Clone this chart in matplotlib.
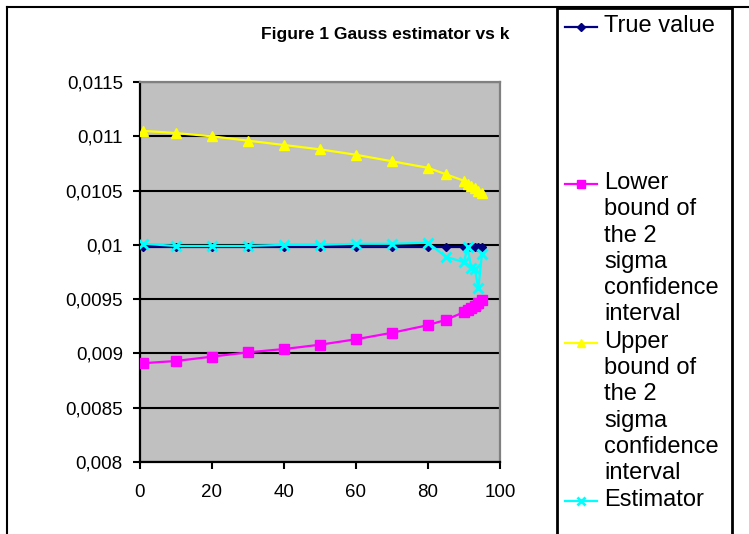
import numpy as np
import matplotlib
matplotlib.use('Agg')
import matplotlib.pyplot as plt
from matplotlib.lines import Line2D
from matplotlib.patches import Rectangle

plt.rcParams['font.family'] = ['Liberation Sans', 'DejaVu Sans']

# data
k = [1, 10, 20, 30, 40, 50, 60, 70, 80, 85, 90, 91, 92, 93, 94, 95]
true_value = [0.00998] * len(k)
lower_bound = [0.00891, 0.00893, 0.00897, 0.00901, 0.00904, 0.00908, 0.00913,
               0.00919, 0.00926, 0.00931, 0.00938, 0.00940, 0.00942, 0.00944,
               0.00946, 0.00949]
upper_bound = [0.01105, 0.01103, 0.01100, 0.01096, 0.01092, 0.01088, 0.01083,
               0.01077, 0.01071, 0.01065, 0.01059, 0.01056, 0.01054, 0.01052,
               0.01050, 0.01048]
estimator = [0.01001, 0.00999, 0.00999, 0.00999, 0.01000, 0.01000, 0.01001,
             0.01001, 0.01002, 0.00989, 0.00984, 0.00998, 0.00979, 0.00978,
             0.00960, 0.00992]

y_ticks = [0.008, 0.0085, 0.009, 0.0095, 0.01, 0.0105, 0.011, 0.0115]
y_labels = ['0,008', '0,0085', '0,009', '0,0095', '0,01', '0,0105', '0,011', '0,0115']
x_ticks = [0, 20, 40, 60, 80, 100]

series_names = ['True value',
                'Lower\nbound of\nthe 2\nsigma\nconfidence\ninterval',
                'Upper\nbound of\nthe 2\nsigma\nconfidence\ninterval',
                'Estimator']

W, H = 749, 534
fig = plt.figure(figsize=(W / 100, H / 100), dpi=100)
fig.patch.set_facecolor('white')

ax = fig.add_axes([139.5 / W, (H - 462) / H, (500 - 139.5) / W, (462 - 82) / H])
ax.set_facecolor('#C0C0C0')

styles = [
    dict(color='#000080', marker='D', ms=4.5, lw=1.6),
    dict(color='#FF00FF', marker='s', ms=6.5, lw=1.6),
    dict(color='#FFFF00', marker='^', ms=7.5, lw=1.6),
    dict(color='#00FFFF', marker='x', ms=7, mew=2, lw=1.6),
]
for vals, st in zip([true_value, lower_bound, upper_bound, estimator], styles):
    ax.plot(k, vals, **st, zorder=3)

ax.set_xlim(0, 100)
ax.set_ylim(0.008, 0.0115)
ax.set_xticks(x_ticks)
ax.set_yticks(y_ticks)
ax.set_yticklabels(y_labels)
ax.tick_params(axis='both', direction='out', length=5, width=1.5, labelsize=13.5,
               colors='black')
ax.tick_params(axis='x', pad=11)
ax.tick_params(axis='y', pad=7)

ax.set_axisbelow(True)
ax.yaxis.grid(True, color='black', lw=1.5)
ax.xaxis.grid(False)
for side in ['left', 'bottom']:
    ax.spines[side].set_color('black')
    ax.spines[side].set_linewidth(1.6)
for side in ['top', 'right']:
    ax.spines[side].set_color('#808080')
    ax.spines[side].set_linewidth(1.6)

fig.text(385 / W, 1 - 35 / H, 'Figure 1 Gauss estimator vs k', ha='center',
         va='center', fontsize=12.5, fontweight='bold')

# outer chart frame
fig.add_artist(Line2D([7 / W, 1], [1 - 7 / H, 1 - 7 / H], color='black', lw=1.5))
fig.add_artist(Line2D([7 / W, 7 / W], [0, 1 - 7 / H], color='black', lw=1.5))

# legend box
fig.add_artist(Rectangle((557 / W, -0.05), (732 - 557) / W, 1.05 - 8 / H,
                         transform=fig.transFigure, fill=False, ec='black', lw=2))
entry_y = [27, 184, 343, 501]
for name, st, yy in zip(series_names, styles, entry_y):
    yf = 1 - yy / H
    fig.add_artist(Line2D([565 / W, 597 / W], [yf, yf], color=st['color'], lw=1.6))
    fig.add_artist(Line2D([581 / W], [yf], color=st['color'], marker=st['marker'],
                          ms=st['ms'] * 0.8, mew=st.get('mew', 1)))
    fig.text(604 / W, 1 - (yy - 12) / H, name, ha='left', va='top', fontsize=17,
             linespacing=1.25)

fig.savefig('out.png', dpi=100)
